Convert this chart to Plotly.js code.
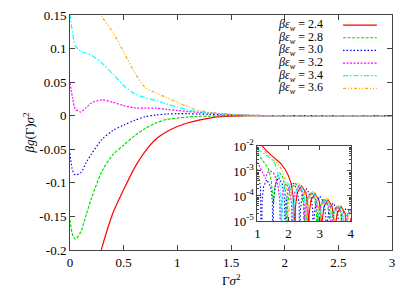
<!DOCTYPE html>
<html>
<head>
<meta charset="utf-8">
<script src="https://cdn.plot.ly/plotly-3.0.1.min.js"></script>
<style>html,body{margin:0;padding:0;background:#fff;}#chart{width:415px;height:291px;}</style>
</head>
<body>
<div id="chart"></div>
<script>
// ---- main panel data ----
const gammaSigma2 = [0, 0.025, 0.05, 0.1, 0.15, 0.2, 0.3, 0.4, 0.5, 0.6, 0.7, 0.8, 0.9, 1.0, 1.1, 1.2, 1.3, 1.4, 1.5, 1.6, 1.8, 2.0, 2.5, 3.0];
const g_24 = [-0.40, -0.39, -0.37, -0.33, -0.29, -0.255, -0.195, -0.145, -0.11, -0.078, -0.053, -0.035, -0.024, -0.016, -0.0105, -0.0065, -0.0035, -0.0015, -0.0005, -0.0002, 0, 0, 0, 0];
const g_28 = [-0.155, -0.178, -0.184, -0.173, -0.148, -0.123, -0.082, -0.058, -0.044, -0.030, -0.019, -0.011, -0.0055, -0.0035, -0.002, -0.001, -0.0005, -0.0002, 0, 0, 0, 0, 0, 0];
const g_30 = [-0.056, -0.082, -0.088, -0.085, -0.070, -0.057, -0.035, -0.022, -0.014, -0.007, -0.0015, 0.001, 0.0025, 0.003, 0.003, 0.0025, 0.002, 0.0015, 0.001, 0.0005, 0.0002, 0, 0, 0];
const g_32 = [0.049, 0.026, 0.010, 0.0055, 0.012, 0.019, 0.0235, 0.020, 0.015, 0.0118, 0.0112, 0.0112, 0.0095, 0.0078, 0.0062, 0.005, 0.004, 0.003, 0.0018, 0.001, 0.0003, 0.0001, 0, 0];
const g_34 = [0.152, 0.122, 0.104, 0.096, 0.093, 0.090, 0.078, 0.062, 0.045, 0.033, 0.027, 0.0225, 0.0175, 0.013, 0.0085, 0.006, 0.004, 0.003, 0.0018, 0.001, 0.0003, 0.0001, 0, 0];
const g_36 = [0.30, 0.28, 0.265, 0.235, 0.205, 0.178, 0.147, 0.124, 0.095, 0.065, 0.042, 0.034, 0.027, 0.020, 0.013, 0.008, 0.005, 0.0035, 0.002, 0.001, 0.0003, 0.0001, 0, 0];

// ---- inset data: |beta g| on a log scale ----
const xi_24 = [1.0,1.15,1.3,1.45,1.6,1.75,1.9,2.0,2.08,2.14,2.18,2.2, 2.22,2.28,2.42,2.56,2.62,2.64, 2.66,2.72,2.85,2.98,3.04,3.06, 3.08,3.14,3.27,3.40,3.46,3.48, 3.50,3.56,3.69,3.82,3.88,3.90, 3.92,3.98,4.0];
const gi_24 = [1.66e-2,1.0e-2,6.3e-3,4.2e-3,3.0e-3,2.0e-3,1.12e-3,6.3e-4,3.2e-4,1.12e-4,2.5e-5,1e-7, 3.5e-5,1.35e-4,2.5e-4,1.35e-4,3.5e-5,1e-7, 1.8e-5,6.8e-5,1.26e-4,6.8e-5,1.8e-5,1e-7, 1.0e-5,3.8e-5,7.1e-5,3.8e-5,1.0e-5,1e-7, 5.4e-6,2.0e-5,3.8e-5,2.0e-5,5.4e-6,1e-7, 3e-6,1.1e-5,1.3e-5];
const xi_28 = [1.0,1.12,1.25,1.35,1.43,1.49,1.52,1.56,1.63,1.72,1.8,1.87,1.92,1.95, 1.97,2.04,2.22,2.40,2.48,2.50, 2.52,2.58,2.71,2.84,2.90,2.92, 2.94,3.00,3.13,3.26,3.32,3.34, 3.36,3.42,3.55,3.68,3.74,3.76, 3.78,3.84,3.96,4.0];
const gi_28 = [5.0e-3,3.2e-3,2.1e-3,1.3e-3,5.5e-4,1.2e-4,5.0e-5,2.0e-4,6.0e-4,8.5e-4,6.5e-4,3.0e-4,8.0e-5,1e-7, 4.5e-5,1.7e-4,3.2e-4,1.7e-4,4.5e-5,1e-7, 2.0e-5,7.5e-5,1.4e-4,7.5e-5,2.0e-5,1e-7, 1.07e-5,4.1e-5,7.6e-5,4.1e-5,1.07e-5,1e-7, 5.6e-6,2.1e-5,4.0e-5,2.1e-5,5.6e-6,1e-7, 4e-6,1.4e-5,3.0e-5,3.2e-5];
const xi_30 = [1.0,1.05,1.1,1.13, 1.15,1.2,1.3,1.42,1.48,1.5, 1.52,1.58,1.68,1.8,1.87,1.9, 1.92,1.99,2.13,2.27,2.34,2.36, 2.38,2.44,2.58,2.72,2.78,2.80, 2.82,2.88,3.01,3.14,3.20,3.22, 3.24,3.30,3.43,3.56,3.62,3.64, 3.66,3.72,3.85,4.0];
const gi_30 = [1.2e-3,6e-4,2e-4,1e-7, 6.3e-5,2.4e-4,4.5e-4,2.4e-4,6.3e-5,1e-7, 8e-5,3.0e-4,5.6e-4,3.0e-4,8e-5,1e-7, 5e-5,1.9e-4,3.5e-4,1.9e-4,5e-5,1e-7, 2.7e-5,1.0e-4,1.9e-4,1.0e-4,2.7e-5,1e-7, 1.4e-5,5.4e-5,1.0e-4,5.4e-5,1.4e-5,1e-7, 7.4e-6,2.8e-5,5.2e-5,2.8e-5,7.4e-6,1e-7, 5e-6,1.8e-5,3.2e-5,2.5e-5];
const xi_32 = [1.0,1.1,1.2,1.26,1.33,1.42,1.52,1.6,1.67,1.72,1.75, 1.77,1.83,1.93,2.03,2.10,2.12, 2.14,2.20,2.33,2.46,2.51,2.53, 2.55,2.61,2.74,2.87,2.93,2.95, 2.97,3.03,3.16,3.29,3.35,3.37, 3.39,3.45,3.58,3.71,3.77,3.79, 3.81,3.87,4.0];
const gi_32 = [2.3e-3,1.3e-3,6.5e-4,5.0e-4,9.0e-4,1.0e-3,8.0e-4,5.0e-4,2.2e-4,6.0e-5,1e-7, 4.5e-5,1.7e-4,3.2e-4,1.7e-4,4.5e-5,1e-7, 3.5e-5,1.35e-4,2.5e-4,1.35e-4,3.5e-5,1e-7, 2.0e-5,7.5e-5,1.4e-4,7.5e-5,2.0e-5,1e-7, 1.07e-5,4.1e-5,7.6e-5,4.1e-5,1.07e-5,1e-7, 5.6e-6,2.1e-5,4.0e-5,2.1e-5,5.6e-6,1e-7, 4e-6,1.4e-5,3.0e-5];
const xi_34 = [1.0,1.15,1.3,1.45,1.55,1.63,1.7,1.75,1.78, 1.80,1.86,1.97,2.08,2.14,2.16, 2.18,2.24,2.36,2.48,2.54,2.56, 2.58,2.64,2.77,2.90,2.96,2.98, 3.00,3.06,3.19,3.32,3.38,3.40, 3.42,3.48,3.61,3.74,3.80,3.82, 3.84,3.90,4.0];
const gi_34 = [7.5e-3,5.5e-3,4.0e-3,3.0e-3,2.1e-3,1.2e-3,5.0e-4,1.2e-4,1e-7, 5.0e-5,1.9e-4,3.5e-4,1.9e-4,5.0e-5,1e-7, 4.0e-5,1.5e-4,2.8e-4,1.5e-4,4.0e-5,1e-7, 2.1e-5,8.1e-5,1.5e-4,8.1e-5,2.1e-5,1e-7, 1.1e-5,4.3e-5,7.9e-5,4.3e-5,1.1e-5,1e-7, 5.9e-6,2.3e-5,4.2e-5,2.3e-5,5.9e-6,1e-7, 4e-6,1.4e-5,2.6e-5];
const xi_36 = [1.0,1.15,1.3,1.45,1.55,1.65,1.75,1.85,1.92,1.97,2.0, 2.02,2.09,2.29,2.49,2.56,2.58, 2.60,2.66,2.79,2.92,2.98,3.0, 3.02,3.08,3.21,3.34,3.40,3.42, 3.44,3.50,3.63,3.76,3.82,3.84, 3.86,3.92,4.0];
const gi_36 = [1.3e-2,8.0e-3,5.0e-3,3.0e-3,2.6e-3,2.0e-3,1.3e-3,7.0e-4,3.5e-4,1.0e-4,1e-7, 5.0e-5,1.9e-4,3.5e-4,1.9e-4,5.0e-5,1e-7, 2.3e-5,8.6e-5,1.6e-4,8.6e-5,2.3e-5,1e-7, 1.2e-5,4.5e-5,8.3e-5,4.5e-5,1.2e-5,1e-7, 6.3e-6,2.4e-5,4.5e-5,2.4e-5,6.3e-6,1e-7, 4e-6,1.5e-5,2.5e-5];

const seriesLabels = ["2.4", "2.8", "3.0", "3.2", "3.4", "3.6"];
const xTickVals = [0, 0.5, 1, 1.5, 2, 2.5, 3];
const xTickText = ["0", "0.5", "1", "1.5", "2", "2.5", "3"];
const yTickVals = [-0.2, -0.15, -0.1, -0.05, 0, 0.05, 0.1, 0.15];
const yTickText = ["-0.2", "-0.15", "-0.1", "-0.05", "0", "0.05", "0.1", "0.15"];
const insetXTickVals = [1, 2, 3, 4];
const insetXTickText = ["1", "2", "3", "4"];
const insetYTickVals = [1e-5, 1e-4, 1e-3, 1e-2];
const insetYTickText = ["10<sup>-5</sup>", "10<sup>-4</sup>", "10<sup>-3</sup>", "10<sup>-2</sup>"];

const mainY = [g_24, g_28, g_30, g_32, g_34, g_36];
const insetX = [xi_24, xi_28, xi_30, xi_32, xi_34, xi_36];
const insetY = [gi_24, gi_28, gi_30, gi_32, gi_34, gi_36];

const styles = [
  {color: "#ff0000", dash: "solid"},
  {color: "#00e000", dash: "3px,1.5px"},
  {color: "#0000ff", dash: "1.5px,2px"},
  {color: "#ff00ff", dash: "2px,1.5px"},
  {color: "#00ffff", dash: "5px,2px,1.5px,2px"},
  {color: "#ffa500", dash: "3px,2px,1px,2px,1px,2px"}
];

const FONT = "Liberation Serif, DejaVu Serif, serif";
const traces = [];
for (let i = 0; i < 6; i++) {
  traces.push({
    x: gammaSigma2, y: mainY[i], type: "scatter", mode: "lines",
    line: {color: styles[i].color, dash: styles[i].dash, width: 1.2, shape: "spline", smoothing: 0.8},
    showlegend: false, hoverinfo: "skip", xaxis: "x", yaxis: "y"
  });
}
for (let i = 0; i < 6; i++) {
  traces.push({
    x: insetX[i], y: insetY[i], type: "scatter", mode: "lines",
    line: {color: styles[i].color, dash: styles[i].dash, width: 1.1},
    showlegend: false, hoverinfo: "skip", xaxis: "x2", yaxis: "y2"
  });
}

// legend (text on the left, sample on the right, as in the original)
const legTop = 0.957, legStep = 0.0538;
const annotations = [];
const shapes = [];
for (let i = 0; i < 6; i++) {
  const yy = legTop - i * legStep;
  annotations.push({
    xref: "paper", yref: "paper", x: 0.792, y: yy, xanchor: "right", yanchor: "middle",
    text: "<i>βε</i><sub><i>w</i></sub> = " + seriesLabels[i], showarrow: false,
    font: {family: FONT, size: 12, color: "#000"}
  });
  shapes.push({
    type: "line", xref: "paper", yref: "paper", x0: 0.848, x1: 0.953, y0: yy, y1: yy,
    line: {color: styles[i].color, dash: styles[i].dash, width: 1.2}
  });
}
// x-axis title placed as in the original
annotations.push({
  xref: "paper", yref: "paper", x: 0.5, y: -0.128, xanchor: "center", yanchor: "middle",
  text: "Γ<i>σ</i><sup>2</sup>", showarrow: false, font: {family: FONT, size: 13, color: "#000"}
});

const axisCommon = {
  showgrid: false, zeroline: false, showline: true, linecolor: "#444", linewidth: 1,
  ticks: "inside", ticklen: 5, tickcolor: "#444", mirror: "ticks",
  tickfont: {family: FONT, size: 13, color: "#000"}
};

const layout = {
  width: 415, height: 291,
  margin: {l: 70, r: 23, t: 15, b: 41, pad: 0},
  paper_bgcolor: "#fff", plot_bgcolor: "rgba(0,0,0,0)",
  showlegend: false,
  xaxis: Object.assign({}, axisCommon, {
    range: [0, 3], tickvals: xTickVals, ticktext: xTickText, domain: [0, 1], anchor: "y"
  }),
  yaxis: Object.assign({}, axisCommon, {
    range: [-0.2, 0.15], tickvals: yTickVals, ticktext: yTickText, domain: [0, 1], anchor: "x",
    title: {text: "<i>βg</i>(Γ)<i>σ</i><sup>2</sup>", font: {family: FONT, size: 13, color: "#000"}}
  }),
  xaxis2: Object.assign({}, axisCommon, {
    range: [1, 4], tickvals: insetXTickVals, ticktext: insetXTickText, domain: [0.582, 0.872], anchor: "y2",
    ticklen: 4
  }),
  yaxis2: Object.assign({}, axisCommon, {
    type: "log", range: [-5, -2], tickvals: insetYTickVals, ticktext: insetYTickText,
    domain: [0.1234, 0.4426], anchor: "x2", ticklen: 4,
    minor: {ticks: "inside", ticklen: 2, tickcolor: "#444", dtick: "D1", showgrid: false}
  }),
  annotations: annotations,
  shapes: shapes
};

Plotly.newPlot("chart", traces, layout, {displayModeBar: false, staticPlot: true});
</script>
</body>
</html>
